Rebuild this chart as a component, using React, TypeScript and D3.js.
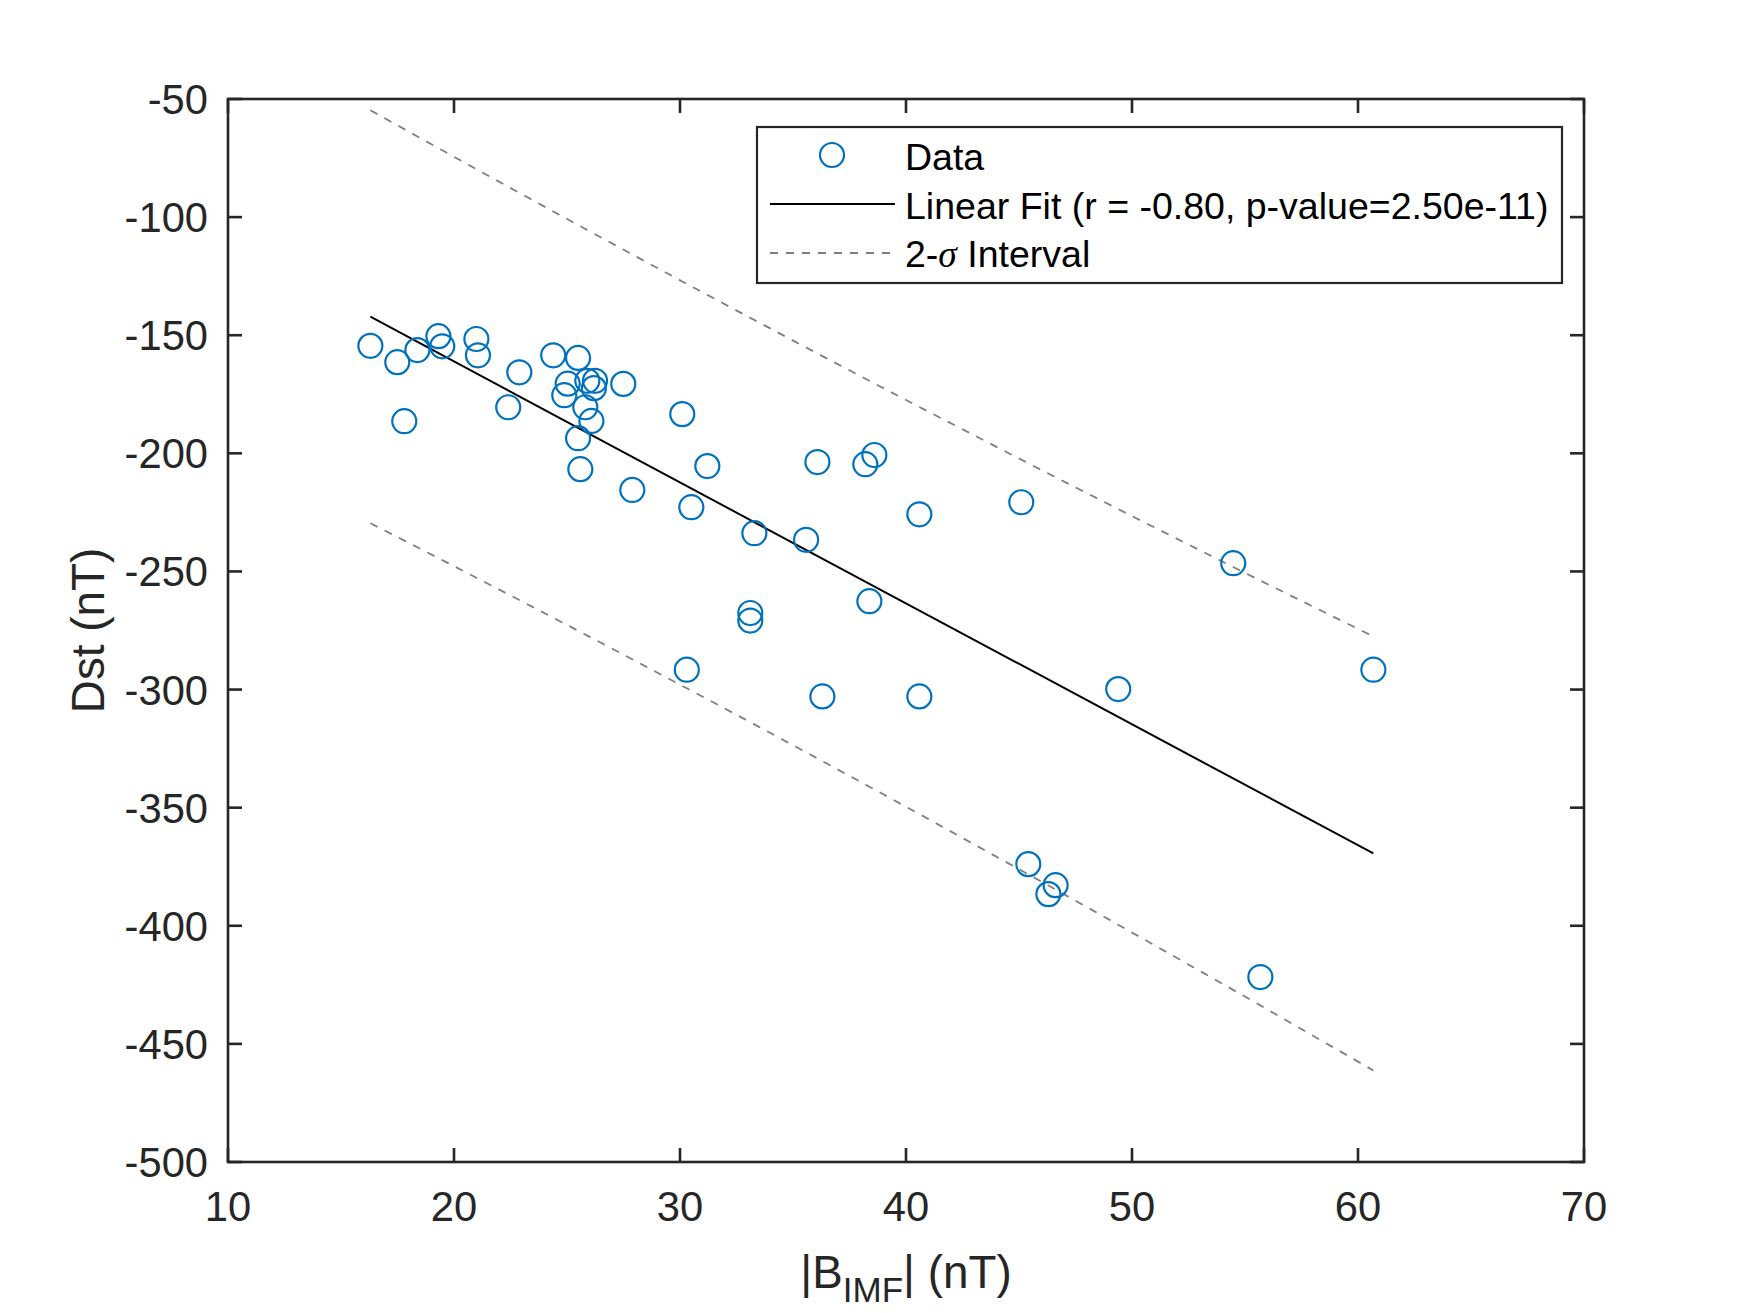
import * as d3 from 'd3';

// |B_IMF| (nT) and Dst (nT) for each storm
const bimf = [
  16.30, 17.49, 18.38, 19.31, 19.48, 20.99, 21.06, 17.80, 22.89, 22.40,
  24.39, 25.49, 25.03, 24.88, 25.90, 26.24, 26.19, 25.81, 26.08, 25.49,
  25.59, 27.49, 27.89, 30.10, 31.21, 30.50, 33.29, 35.58, 36.08, 38.20,
  38.60, 40.59, 33.11, 33.11, 30.30, 38.38, 36.30, 40.59, 45.10, 54.48,
  60.68, 49.39, 45.41, 46.62, 46.30, 55.68,
];
const dst = [
  -154.5, -161.4, -156.3, -150.4, -154.7, -151.6, -158.5, -186.4, -165.7, -180.5,
  -158.5, -159.6, -170.5, -175.4, -169.3, -169.3, -172.4, -180.5, -186.3, -193.6,
  -206.7, -170.6, -215.5, -183.4, -205.4, -222.8, -233.8, -236.6, -203.7, -204.6,
  -200.7, -225.8, -267.6, -270.8, -291.6, -262.6, -302.9, -302.9, -220.7, -246.5,
  -291.6, -299.8, -373.9, -382.8, -386.6, -421.7,
];

const xTicks = [10, 20, 30, 40, 50, 60, 70];
const yTicks = [-500, -450, -400, -350, -300, -250, -200, -150, -100, -50];
const legendLabels = ['Data', 'Linear Fit (r = -0.80, p-value=2.50e-11)', '2-σ Interval'];

const W = 1750;
const H = 1313;
const left = 228, right = 1584, top = 99, bottom = 1162;
const axisColor = '#262626';
const blue = '#0072BD';
const font = '"Liberation Sans", Arial, Helvetica, sans-serif';

// least squares fit + 2-sigma prediction band
function fit(xs: number[], ys: number[]) {
  const n = xs.length;
  const mx = d3.mean(xs)!;
  const my = d3.mean(ys)!;
  const sxx = d3.sum(xs, (v) => (v - mx) ** 2);
  const sxy = d3.sum(xs, (v, i) => (v - mx) * (ys[i] - my));
  const b = sxy / sxx;
  const a = my - b * mx;
  const sse = d3.sum(xs, (v, i) => (ys[i] - (a + b * v)) ** 2);
  const s = Math.sqrt(sse / (n - 2));
  const half = (v: number) => 2 * s * Math.sqrt(1 + 1 / n + (v - mx) ** 2 / sxx);
  return { a, b, half };
}

export default function App() {
  const x = d3.scaleLinear().domain([10, 70]).range([left, right]);
  const y = d3.scaleLinear().domain([-500, -50]).range([bottom, top]);

  const { a, b, half } = fit(bimf, dst);
  const xs = [...bimf].sort((p, q) => p - q);
  const xEnds = d3.extent(bimf) as [number, number];

  const line = d3.line<number[]>().x((d) => x(d[0])).y((d) => y(d[1]));
  const fitPath = line(xEnds.map((v) => [v, a + b * v]));
  const upPath = line(xs.map((v) => [v, a + b * v + half(v)]));
  const loPath = line(xs.map((v) => [v, a + b * v - half(v)]));

  const tickLen = 14;

  // legend geometry
  const lg = { x: 757, y: 127, w: 805, h: 156 };
  const rowY = [157, 206, 254];
  const textX = 905;

  return (
    <svg width={W} height={H} style={{ position: 'absolute', left: 0, top: 0, background: '#fff' }}>
      <rect x={0} y={0} width={W} height={H} fill="#fff" />
      <rect x={left} y={top} width={right - left} height={bottom - top} fill="#fff" />

      {/* interval and fit */}
      <path d={upPath!} fill="none" stroke="#808080" strokeWidth={1.8} strokeDasharray="8,8" />
      <path d={loPath!} fill="none" stroke="#808080" strokeWidth={1.8} strokeDasharray="8,8" />
      <path d={fitPath!} fill="none" stroke="#000" strokeWidth={2} />

      {/* data */}
      {bimf.map((v, i) => (
        <circle key={i} cx={x(v)} cy={y(dst[i])} r={12} fill="none" stroke={blue} strokeWidth={2.2} />
      ))}

      {/* axes box */}
      <rect x={left} y={top} width={right - left} height={bottom - top} fill="none" stroke={axisColor} strokeWidth={2.6} />
      {xTicks.map((t) => (
        <g key={'x' + t}>
          <line x1={x(t)} x2={x(t)} y1={bottom} y2={bottom - tickLen} stroke={axisColor} strokeWidth={2.6} />
          <line x1={x(t)} x2={x(t)} y1={top} y2={top + tickLen} stroke={axisColor} strokeWidth={2.6} />
          <text x={x(t)} y={1221} textAnchor="middle" fontFamily={font} fontSize={41.7} fill={axisColor}>
            {t}
          </text>
        </g>
      ))}
      {yTicks.map((t) => (
        <g key={'y' + t}>
          <line x1={left} x2={left + tickLen} y1={y(t)} y2={y(t)} stroke={axisColor} strokeWidth={2.6} />
          <line x1={right} x2={right - tickLen} y1={y(t)} y2={y(t)} stroke={axisColor} strokeWidth={2.6} />
          <text x={208} y={y(t) + 15} textAnchor="end" fontFamily={font} fontSize={41.7} fill={axisColor}>
            {t}
          </text>
        </g>
      ))}

      {/* axis labels */}
      <text x={(left + right) / 2} y={1288} textAnchor="middle" fontFamily={font} fontSize={45.8} fill={axisColor}>
        |B<tspan fontSize={35} dy={14}>IMF</tspan>
        <tspan dy={-14}>| (nT)</tspan>
      </text>
      <text
        transform={`translate(104,${(top + bottom) / 2}) rotate(-90)`}
        textAnchor="middle"
        fontFamily={font}
        fontSize={45.8}
        fill={axisColor}
      >
        Dst (nT)
      </text>

      {/* legend */}
      <rect x={lg.x} y={lg.y} width={lg.w} height={lg.h} fill="#fff" stroke={axisColor} strokeWidth={2.2} />
      <circle cx={832} cy={rowY[0] - 2} r={12} fill="none" stroke={blue} strokeWidth={2.2} />
      <line x1={770} x2={895} y1={rowY[1] - 2} y2={rowY[1] - 2} stroke="#000" strokeWidth={2.2} />
      <line x1={770} x2={895} y1={rowY[2] - 1} y2={rowY[2] - 1} stroke="#808080" strokeWidth={1.8} strokeDasharray="8,8" />
      <text x={textX} y={rowY[0] + 13} fontFamily={font} fontSize={37.5} fill="#000">
        {legendLabels[0]}
      </text>
      <text x={textX} y={rowY[1] + 13} fontFamily={font} fontSize={37.5} fill="#000">
        {legendLabels[1]}
      </text>
      <text x={textX} y={rowY[2] + 13} fontFamily={font} fontSize={37.5} fill="#000">
        2-<tspan fontStyle="italic" fontFamily='"Liberation Serif", serif'>σ</tspan> Interval
      </text>
    </svg>
  );
}
